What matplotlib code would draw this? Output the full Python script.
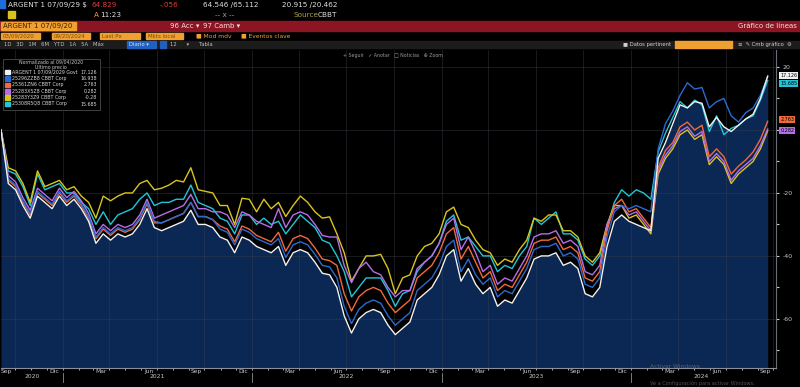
import numpy as np
import pandas as pd
import matplotlib
matplotlib.use("Agg")
import matplotlib.pyplot as plt
import matplotlib.dates as mdates
import matplotlib.transforms as mtrans
from matplotlib.patches import Rectangle

W, H = 800, 387

start = "2020-09-04"
end = "2024-09-20"

names = ["ARGENT 1 07/09/2029 Govt", "25296ZZB8 CBBT Corp", "25361ZN6 CBBT Corp",
         "25283X5Z8 CBBT Corp", "25283Y3Z9 CBBT Corp", "25308R5Q8 CBBT Corp"]
colors = ["#f2f2f2", "#2a6bd1", "#f06a3c", "#b66ee8", "#d8c51e", "#22c6d6"]

argent = [0, -17, -19, -24, -28, -21, -23, -25, -21, -24, -22, -25, -29, -36, -33, -35,
          -33, -34, -33, -30, -25, -31, -32, -31, -30, -29, -25.5, -30, -30, -31, -34, -35,
          -39, -34, -35, -37, -38, -39, -37, -43, -39, -38, -39, -42, -45.5, -46, -50, -59,
          -64.5, -60, -58, -57, -58, -62, -65, -63, -61, -54, -52, -50, -46, -40, -38, -48,
          -44, -49, -52, -50, -56, -54, -55, -51, -47, -41, -40, -40, -39, -43, -42, -44,
          -52, -53, -50, -37, -29, -27, -29, -30, -31, -32, -9, -4, 2, 8, 7, 9, 8.5, 1, 4,
          1, -0.5, 1.5, 3.5, 5, 10, 17.126]
blue = [0, -15.5, -17.5, -22.5, -26.5, -19.5, -21.5, -23.5, -19.5, -22.5, -20.5, -23.5,
        -27.5, -34, -31, -33, -31, -32, -31, -28, -23, -29, -29.5, -28.5, -27.5, -26.5, -23,
        -27.5, -27.5, -28.5, -31.5, -32.5, -36.5, -31.5, -32.5, -34.5, -35.5, -36.5, -34.5,
        -40.5, -36.5, -35.5, -36.5, -39.5, -43, -43.5, -47, -56, -61.5, -57, -55, -54, -55,
        -59, -62, -60, -58, -51, -49, -47, -43, -37, -35, -45, -41, -46, -49, -47, -53, -51,
        -52, -48, -44, -38, -37, -37, -36, -40, -39, -41, -49, -50, -47, -34, -26, -24, -25,
        -24, -25, -26, -6, 2, 6, 11, 15, 13, 13.5, 7, 9, 10, 4.5, 2.5, 5.5, 7, 11, 16.938]
orange = [0, -16, -18, -23, -27, -20, -22, -24, -20, -23, -21, -24, -28, -34.5, -31.5,
          -33.5, -31.5, -32.5, -31.5, -28.5, -23.5, -29.5, -29.5, -28.5, -27.5, -26.5, -23,
          -27.5, -27.5, -28.5, -30.5, -31.5, -35.5, -30.5, -31.5, -33.5, -34.5, -35.5, -32.5,
          -38.5, -34.5, -33.5, -34.5, -37.5, -41, -41.5, -43, -52, -57.5, -53, -51, -50, -51,
          -55, -58, -56, -54, -47, -45, -43, -39, -33, -31, -41, -37, -42, -47, -45, -51, -49,
          -50, -46, -42, -36, -35, -35, -34, -38, -37, -39, -47, -48, -45, -32, -24, -22, -26,
          -25, -28, -31, -12, -6.5, -4, 1, 2.5, 0, 1.5, -8.5, -6, -8.5, -14, -11.5, -9.5, -7,
          -3, 2.763]
purple = [0, -14.5, -16.5, -21.5, -25.5, -18.5, -20.5, -22.5, -18.5, -21.5, -19.5, -22.5,
          -26.5, -33, -30, -32, -30, -31, -30, -27, -22, -28, -27, -26, -25, -24, -20.5, -25,
          -25, -26, -26, -27, -31, -26, -27, -29, -30, -31, -25, -31, -27, -26, -27, -30,
          -33.5, -34, -34, -43, -48.5, -44, -42, -45, -46, -50, -53, -51, -51, -44, -42, -40,
          -36, -30, -28, -38, -34, -39, -45, -43, -49, -47, -48, -44, -40, -34, -33, -33, -32,
          -36, -35, -37, -45, -46, -43, -30, -25, -24, -27, -26, -29, -32, -13, -8, -5, -0.5,
          1, -2, -0.5, -10, -7.5, -10, -16, -13, -11, -9, -5, 0.282]
yellow = [0, -12, -13, -17, -23, -13, -18, -17, -16, -19, -18, -21, -23, -28, -21, -22.5,
          -21, -20, -20, -17, -16, -19, -18.5, -17.5, -16, -16.5, -12, -19, -19.5, -20, -24,
          -24, -30, -21.7, -22, -26, -22, -25, -23, -27.5, -24, -21, -23, -26, -28, -27.6,
          -33, -39, -48, -44, -40, -40, -39.5, -44, -52, -47, -46, -40, -37, -36, -33, -26,
          -24.5, -30, -31, -35, -38, -39, -43, -41, -42, -38, -35, -28, -29, -27, -27, -32,
          -32, -34, -40, -42, -39, -30, -24, -24, -28, -27, -30, -33, -14, -9, -6, -1.5, 0,
          -3, -1.5, -11, -8.5, -11, -17, -14, -12, -10, -6, -0.28]
cyan = [0, -13, -14, -18, -24, -14, -19, -18, -17, -20, -20, -23, -25, -30, -26, -30, -27,
        -26, -25, -22, -20, -24, -23, -23, -22, -22, -17.5, -23, -24, -25, -28, -29, -33,
        -27, -27, -30, -28, -30, -29, -33, -30, -27, -29, -31, -35, -36, -40, -45, -53, -50,
        -47, -47, -47, -51, -56, -52, -51, -45, -42, -40, -36, -29, -27, -35, -34, -37, -40,
        -40, -45, -43, -44, -40, -37, -28, -30, -28, -26, -33, -33, -35, -41, -43, -40, -31,
        -23, -19, -21, -19, -20, -22, -7, -1, 4, 9, 7, 9.5, 8, -0.5, 4.5, -1.5, 0.5, 1.5,
        3.5, 4.5, 9.5, 15.685]
series = [argent, blue, orange, purple, yellow, cyan]

y_ticks = [20, 0, -20, -40, -60]
y_labels = ["20", "", "-20", "-40", "-60"]   # 0 sits behind the value tags
month_names = {9: "Sep", 12: "Dic", 3: "Mar", 6: "Jun"}
years = ["2020", "2021", "2022", "2023", "2024"]

dates = pd.date_range(start, end, periods=len(argent))


def fx(x):
    return x / W


def fy(y):
    return 1 - y / H


def box(x0, y0, x1, y1, color, **kw):
    fig.patches.append(Rectangle((fx(x0), fy(y1)), (x1 - x0) / W, (y1 - y0) / H,
                                 transform=fig.transFigure, color=color, **kw))


def txt(x, y, s, color="#d0d0d0", size=5.2, **kw):
    fig.text(fx(x), fy(y), s, color=color, fontsize=size, va="center", **kw)


fig = plt.figure(figsize=(8, 3.87), dpi=100, facecolor="black")

# ---- header rows
box(0, 0, 5, 8, "#1e6fd9")
txt(8, 5, "ARGENT 1 07/09/29 $", color="#e0e0e0")
txt(91, 5, "64.829", color="#e23b3b")
txt(160, 5, "-.056", color="#e23b3b")
txt(203, 5, "64.546 /65.112", color="#e0e0e0")
txt(282, 5, "20.915 /20.462", color="#e0e0e0")
box(8, 11, 15, 18, "#d9c21a")
txt(94, 15, "A", color="#f0a030")
txt(100, 15, "11:23", color="#e0e0e0")
txt(215, 15, "-- x --", color="#a0a0a0")
txt(293, 15, "Source", color="#b0a040")
txt(318, 15, "CBBT", color="#e0e0e0")

box(0, 21, W, 31, "#8c1524")
box(1, 22, 76, 30, "#f0a030")
txt(3, 26, "ARGENT 1 07/09/20", color="#3a2000", size=5)
txt(170, 26, "96 Acc \u25be", color="#f0e0e0", size=5)
txt(203, 26, "97 Camb \u25be", color="#f0e0e0", size=5)
txt(797, 26, "Gráfico de líneas", color="#f0e0e0", size=5, ha="right")

for x0, x1, s in [(1, 40, "03/09/2020"), (52, 90, "09/20/2024"), (100, 140, "Last Px"),
                  (146, 183, "Mkts local")]:
    box(x0, 33, x1, 39, "#f0a030")
    txt(x0 + 2, 36, s, color="#7a4a00", size=4)
txt(196, 36, "\u25a0 Mod mdv", color="#f0a030", size=4.3)
txt(241, 36, "\u25a0 Eventos clave", color="#f0a030", size=4.3)

box(0, 41, W, 48, "#1c1c1c")
txt(4, 44.5, "1D   3D   1M   6M   YTD   1A   5A   Máx", color="#c0c0c0", size=3.8)
box(127, 41.5, 156, 47.5, "#2060c0")
txt(129, 44.5, "Diario \u25be", color="#e0e0e0", size=3.8)
box(160, 41.5, 166, 47.5, "#2060c0")
txt(170, 44.5, "12      \u25be      Tabla", color="#c0c0c0", size=3.8)
txt(623, 44.5, "\u25a0 Datos pertinent", color="#d0d0d0", size=3.8)
box(675, 41.5, 732, 47.5, "#f0a030")
txt(738, 44.5, "\u2261  \u270e Cmb gráfico  \u2699", color="#d0d0d0", size=3.8)

# ---- main chart
ax = fig.add_axes([fx(1), 19 / H, 775 / W, 318 / H])
ax.set_facecolor("black")
ax.fill_between(dates, argent, -100, color="#0b2754", lw=0, zorder=1)
for s, c in list(zip(series, colors))[::-1]:
    ax.plot(dates, s, color=c, lw=1.0, zorder=3)

ax.set_xlim(pd.Timestamp(start), pd.Timestamp("2024-10-06"))
ax.set_ylim(-75.6, 25.4)

quarters = pd.date_range("2020-10-01", "2024-10-01", freq="QS")
for q in quarters:
    ax.axvline(q, color="#3a3f48", lw=0.5, alpha=0.6, zorder=2)
for v in y_ticks:
    ax.axhline(v, color="#3a3f48", lw=0.5, alpha=0.6, zorder=2)

ax.yaxis.tick_right()
ax.set_yticks(y_ticks)
ax.set_yticklabels(y_labels)
ax.set_yticks(np.arange(-70, 30, 10), minor=True)
ax.tick_params(axis="y", which="both", colors="#c8c8c8", labelsize=4.5, length=2,
               width=0.8, pad=3)

mid_months = [d for d in pd.date_range("2020-09-01", "2024-09-01", freq="MS")
              + pd.Timedelta(days=14) if d.month in month_names]
ax.set_xticks(mid_months)
ax.set_xticklabels([month_names[d.month] for d in mid_months])
ax.set_xticks(pd.date_range("2020-10-01", "2024-10-01", freq="MS"), minor=True)
ax.tick_params(axis="x", which="both", colors="#c8c8c8", labelsize=4.3, length=1.5,
               pad=1)
ax.tick_params(axis="x", which="major", length=0)

for sp in ["top", "left"]:
    ax.spines[sp].set_visible(False)
ax.spines["bottom"].set_color("#8a8f98")
ax.spines["right"].set_color("#6a6f78")
ax.spines["bottom"].set_linewidth(0.8)

# years under months
xt = mtrans.blended_transform_factory(ax.transData, fig.transFigure)
year_pos = ["2020-11-02", "2021-07-01", "2022-07-01", "2023-07-01", "2024-05-15"]
for d, s in zip(year_pos, years):
    fig.text(mdates.date2num(pd.Timestamp(d)), fy(377), s, transform=xt, color="#c8c8c8",
             fontsize=4.3, ha="center", va="center")
for d in pd.date_range("2021-01-01", "2024-01-01", freq="YS"):
    xd = mdates.date2num(d)
    fig.add_artist(plt.Line2D([xd, xd], [fy(373), fy(382)], transform=xt, color="#8a8f98",
                              lw=0.6))

# right-side last value tags
ty = mtrans.blended_transform_factory(ax.transAxes, ax.transData)
tag_idx = [0, 5, 2, 3]
tag_off = [0.5, -2.2, 1.5, -0.8]
for i, off in zip(tag_idx, tag_off):
    last = series[i][-1]
    ax.annotate(f"{last:.3f}", xy=(1.0, last), xycoords=ty, xytext=(3, off),
                textcoords="offset points", fontsize=3.5, va="center", ha="left",
                color="black", annotation_clip=False,
                bbox=dict(boxstyle="square,pad=0.18", fc=colors[i], ec="none"), zorder=5)

# legend box
box(3, 59, 100, 110, "black", zorder=4)
fig.patches.append(Rectangle((fx(3), fy(110)), 97 / W, 51 / H, transform=fig.transFigure,
                             fill=False, ec="#5a5a5a", lw=0.5, zorder=5))
txt(51, 62, "Normalizado al 09/04/2020", color="#c8c8c8", size=3.4, ha="center", zorder=6)
txt(51, 66.5, "Último precio", color="#c8c8c8", size=3.4, ha="center", zorder=6)
for k, (n, s, c) in enumerate(zip(names, series, colors)):
    yy = 72 + 6.4 * k
    box(5, yy - 2.3, 9.5, yy + 2.3, c, zorder=6)
    txt(12, yy, n, color="#d8d8d8", size=3.4, zorder=6)
    txt(97, yy, f"{s[-1]:.3f}".rstrip("0"), color="#d8d8d8", size=3.4, ha="right", zorder=6)

# chart toolbar
txt(343, 55, "+ Seguir   \u2713 Anotar   \u25a1 Noticias   \u2295 Zoom", color="#9a9a9a",
    size=3.4, zorder=6)

# watermark
txt(650, 366, "Activar Windows", color="#8a8a8a", size=4.3, alpha=0.6)
txt(650, 383.5, "Ve a Configuración para activar Windows.", color="#8a8a8a", size=3.6,
    alpha=0.6)

fig.savefig("out.png", dpi=100, facecolor="black")
